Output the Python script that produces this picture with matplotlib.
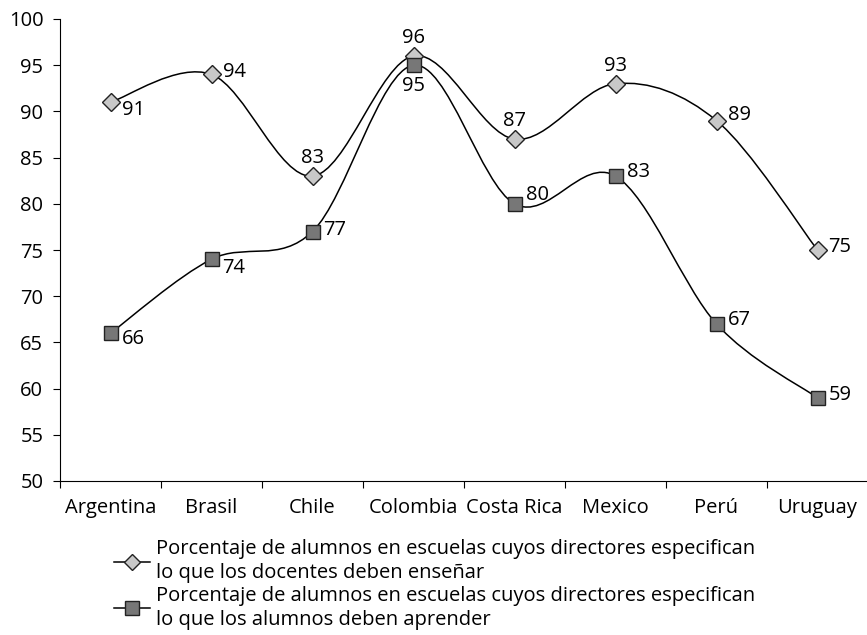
import numpy as np
import matplotlib
matplotlib.use("Agg")
import matplotlib.pyplot as plt
from matplotlib.path import Path
from matplotlib.patches import PathPatch
from matplotlib.lines import Line2D

plt.rcParams["font.family"] = ["Open Sans", "DejaVu Sans"]

# Data
paises = ["Argentina", "Brasil", "Chile", "Colombia", "Costa Rica", "Mexico", "Perú", "Uruguay"]
ensenar = [91, 94, 83, 96, 87, 93, 89, 75]
aprender = [66, 74, 77, 95, 80, 83, 67, 59]
label_ensenar = "Porcentaje de alumnos en escuelas cuyos directores especifican\nlo que los docentes deben enseñar"
label_aprender = "Porcentaje de alumnos en escuelas cuyos directores especifican\nlo que los alumnos deben aprender"

# label offsets (points) for each value
off_ensenar = [(8, -6), (8, 2), (0, 13), (0, 13), (0, 13), (0, 13), (8, 4), (8, 2)]
off_aprender = [(8, -4), (8, -6), (8, 1), (0, -15), (8, 6), (8, 3), (8, 3), (8, 2)]


def smooth_path(x, y):
    # Catmull-Rom style bezier, like Excel's smoothed line
    pts = np.column_stack([x, y]).astype(float)
    verts = [pts[0]]
    codes = [Path.MOVETO]
    n = len(pts)
    for i in range(n - 1):
        p0 = pts[i - 1] if i > 0 else pts[i]
        p1 = pts[i]
        p2 = pts[i + 1]
        p3 = pts[i + 2] if i + 2 < n else pts[i + 1]
        c1 = p1 + (p2 - p0) / 6
        c2 = p2 - (p3 - p1) / 6
        verts += [c1, c2, p2]
        codes += [Path.CURVE4] * 3
    return Path(verts, codes)


fs = 14.5
fig = plt.figure(figsize=(8.67, 6.35), dpi=100)
ax = fig.add_axes([60 / 867, 1 - 481 / 635, 808 / 867, 462 / 635])

x = np.arange(len(paises))
for vals, offs, marker, fc, ms in [
    (ensenar, off_ensenar, "D", "#c8c8c8", 9),
    (aprender, off_aprender, "s", "#777777", 10.5),
]:
    ax.add_patch(PathPatch(smooth_path(x, vals), fc="none", ec="black", lw=1.1, zorder=2))
    ax.plot(x, vals, ls="none", marker=marker, ms=ms, mfc=fc, mec="#222222", mew=1, zorder=3)
    for xi, v, (dx, dy) in zip(x, vals, offs):
        ha = "center" if dx == 0 else "left"
        ax.annotate(str(v), (xi, v), xytext=(dx, dy), textcoords="offset points",
                    ha=ha, va="center", fontsize=fs)

ax.set_xlim(-0.5, len(paises) - 0.5)
ax.set_ylim(50, 100)
ax.set_yticks(range(50, 101, 5))
ax.set_xticks(np.arange(len(paises) + 1) - 0.5, minor=False)
ax.set_xticklabels([])
ax.set_xticks(x, minor=True)
ax.set_xticklabels(paises, minor=True)
ax.tick_params(axis="x", which="minor", length=0, labelsize=fs, pad=12)
ax.tick_params(axis="x", which="major", length=5, direction="out")
ax.tick_params(axis="y", length=5, labelsize=fs, pad=7)
ax.spines["top"].set_visible(False)
ax.spines["right"].set_visible(False)

handles = [
    Line2D([], [], color="black", lw=1.1, marker="D", ms=8, mfc="#c8c8c8", mec="#222222"),
    Line2D([], [], color="black", lw=1.1, marker="s", ms=9.5, mfc="#777777", mec="#222222"),
]
leg = fig.legend(handles, [label_ensenar, label_aprender], loc="upper left",
                 bbox_to_anchor=(104 / 867, 1 - 529 / 635), frameon=False, fontsize=fs,
                 handlelength=1.8, handletextpad=0.3, labelspacing=0.12, borderpad=0)
for t in leg.get_texts():
    t.set_linespacing(1.28)

fig.savefig("out.png", dpi=100)
